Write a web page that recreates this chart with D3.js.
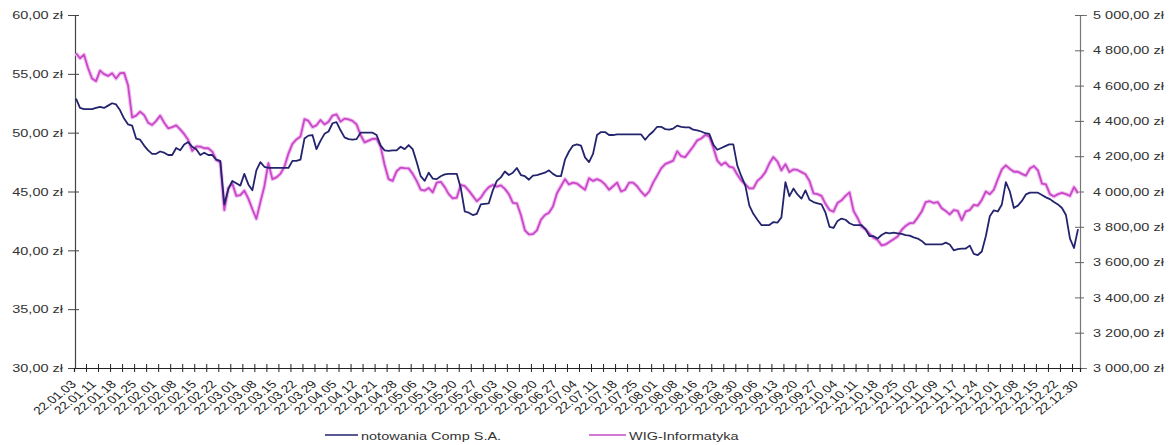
<!DOCTYPE html>
<html><head><meta charset="utf-8">
<script src="https://cdn.jsdelivr.net/npm/d3@7/dist/d3.min.js"></script>
<style>body{margin:0;background:#fff}svg{display:block}text{font-family:"Liberation Sans",Arial,sans-serif;fill:#333}</style>
</head><body><svg id="c" width="1175" height="445"></svg>
<script>
const seriesNames = ["notowania Comp S.A.", "WIG-Informatyka"];
const tickLabels = ["22.01.03","22.01.11","22.01.18","22.01.25","22.02.01","22.02.08","22.02.15","22.02.22","22.03.01","22.03.08","22.03.15","22.03.22","22.03.29","22.04.05","22.04.12","22.04.21","22.04.28","22.05.06","22.05.13","22.05.20","22.05.27","22.06.03","22.06.10","22.06.20","22.06.27","22.07.04","22.07.11","22.07.18","22.07.25","22.08.01","22.08.08","22.08.16","22.08.23","22.08.30","22.09.06","22.09.13","22.09.20","22.09.27","22.10.04","22.10.11","22.10.18","22.10.25","22.11.02","22.11.09","22.11.17","22.11.24","22.12.01","22.12.08","22.12.15","22.12.22","22.12.30"];
const compValues = [52.9,52.1,52.0,52.0,52.0,52.1,52.2,52.1,52.3,52.5,52.4,51.9,51.2,50.7,50.6,49.5,49.4,48.9,48.5,48.2,48.2,48.4,48.3,48.1,48.1,48.7,48.5,49.0,49.2,48.8,48.6,48.1,48.3,48.1,48.1,47.7,47.6,43.9,45.2,45.9,45.7,45.5,46.5,45.6,45.1,46.8,47.5,47.1,47.0,47.0,47.0,47.0,47.0,47.0,47.6,47.6,47.7,49.5,49.75,49.8,48.6,49.3,49.9,50.1,50.8,50.9,50.2,49.6,49.45,49.4,49.45,50.0,50.0,50.0,50.0,49.8,48.9,48.5,48.45,48.5,48.5,48.8,48.6,48.95,48.6,47.5,46.3,45.9,46.6,46.1,46.05,46.3,46.45,46.5,46.5,46.5,45.3,43.3,43.2,43.0,43.1,43.9,43.95,44.0,45.1,45.9,46.2,46.7,46.4,46.6,47.0,46.4,46.3,46.0,46.35,46.4,46.5,46.6,46.8,46.5,46.3,46.3,47.7,48.4,48.9,49.0,48.9,47.9,47.5,48.2,49.8,50.05,50.05,49.8,49.8,49.85,49.85,49.85,49.85,49.85,49.85,49.85,49.4,49.8,50.1,50.5,50.5,50.3,50.25,50.35,50.6,50.5,50.45,50.45,50.25,50.2,50.1,49.95,49.9,49.0,48.55,48.7,48.85,49.0,49.0,47.2,46.3,45.5,43.8,43.1,42.6,42.15,42.15,42.15,42.4,42.35,42.8,45.8,44.6,45.25,44.75,44.4,45.1,44.3,44.1,44.0,43.9,43.2,42.0,41.9,42.5,42.7,42.6,42.3,42.15,42.15,42.15,41.8,41.2,41.2,41.0,41.3,41.5,41.45,41.5,41.45,41.4,41.3,41.25,41.1,41.0,40.8,40.5,40.5,40.5,40.5,40.5,40.65,40.5,40.0,40.1,40.15,40.15,40.4,39.7,39.6,39.9,41.2,42.9,43.4,43.3,43.9,45.8,45.0,43.6,43.8,44.2,44.75,44.9,44.9,44.9,44.7,44.5,44.35,44.1,43.9,43.6,43.0,41.0,40.2,41.8];
const wigValues = [4783,4755,4775,4700,4640,4625,4685,4665,4655,4670,4640,4670,4672,4600,4420,4430,4452,4433,4390,4377,4400,4430,4390,4358,4365,4375,4352,4325,4292,4230,4255,4254,4245,4245,4226,4178,4165,3895,4020,4046,3975,3980,4005,3960,3900,3845,3940,4030,4160,4070,4080,4100,4140,4215,4270,4295,4311,4410,4400,4365,4375,4405,4380,4395,4430,4437,4396,4413,4409,4400,4380,4320,4278,4288,4298,4300,4254,4150,4070,4060,4115,4135,4132,4131,4100,4060,4010,4005,4020,3995,4050,4055,4025,3985,3961,3965,4037,4030,4005,3975,3945,3965,4000,4025,4037,4028,4035,4015,3985,3935,3933,3867,3780,3757,3759,3780,3840,3867,3880,3915,3990,4030,4070,4040,4050,4045,4027,4010,4075,4060,4070,4060,4040,4010,4030,4050,4000,4010,4050,4050,4030,3999,3975,4000,4050,4090,4131,4155,4165,4175,4228,4200,4195,4225,4255,4290,4300,4320,4312,4250,4175,4150,4165,4141,4135,4095,4062,4040,4018,4018,4060,4080,4110,4160,4195,4170,4120,4155,4110,4125,4122,4110,4098,4060,3990,3985,3975,3930,3895,3886,3935,3950,3975,3995,3890,3850,3801,3785,3760,3738,3725,3695,3700,3715,3730,3745,3782,3805,3820,3822,3852,3886,3940,3945,3935,3940,3905,3890,3870,3895,3890,3838,3888,3895,3924,3920,3952,4000,3985,4010,4070,4125,4148,4128,4112,4112,4100,4090,4130,4144,4120,4045,4040,3985,3972,3985,3992,3985,3975,4025,3990];
const leftTicks = [30,35,40,45,50,55,60];
const rightTicks = [3000,3200,3400,3600,3800,4000,4200,4400,4600,4800,5000];
const colors = ["#23236e", "#c848c8"];

const svg = d3.select("#c");
const SX = 1.26;
const n = compValues.length;
const x = d3.scalePoint().domain(d3.range(n)).range([76, 1078]);
const step = x.step();
const xb = d3.scaleLinear().domain([-0.5, n - 0.5]).range([x(0) - step / 2, x(n - 1) + step / 2]);
const yL = d3.scaleLinear().domain([30, 60]).range([368, 15]);
const yR = d3.scaleLinear().domain([3000, 5000]).range([368, 15]);
const fmtL = v => d3.format(".2f")(v).replace(".", ",") + " zł";
const fmtR = v => d3.format(",.2f")(v).replace(/,/g, " ").replace(".", ",") + " zł";

// left axis
const gL = svg.append("g").attr("transform", "translate(75,0)")
  .call(d3.axisLeft(yL).tickValues(leftTicks).tickFormat(fmtL).tickSizeOuter(0).tickSize(7));
gL.select(".domain").attr("stroke", "#444").attr("stroke-width", 1.2);
gL.selectAll(".tick line").attr("x1", 4).attr("x2", -7).attr("stroke", "#444");
gL.selectAll(".tick text").attr("x", 0).attr("transform", `translate(-12,0) scale(${SX},1)`)
  .style("font-size", "11.5px").style("fill", "#333");

// right axis
const gR = svg.append("g").attr("transform", "translate(1080,0)")
  .call(d3.axisRight(yR).tickValues(rightTicks).tickFormat(fmtR).tickSizeOuter(0).tickSize(7));
gR.select(".domain").attr("stroke", "#777").attr("stroke-width", 1.2);
gR.selectAll(".tick line").attr("x1", -5).attr("x2", 4).attr("stroke", "#666");
gR.selectAll(".tick text").attr("x", 0).attr("transform", `translate(13,0) scale(${SX},1)`)
  .style("font-size", "11.5px").style("fill", "#333");

// bottom axis
const gB = svg.append("g").attr("transform", "translate(0,368)")
  .call(d3.axisBottom(xb).tickValues(d3.range(2.5, n, 3)).tickFormat("").tickSizeOuter(0).tickSize(4));
gB.select(".domain").attr("stroke", "#222").attr("stroke-width", 1.2);
gB.selectAll(".tick line").attr("y1", -4).attr("y2", 4).attr("stroke", "#222");

svg.append("g").selectAll("text").data(tickLabels).join("text")
  .attr("text-anchor", "end")
  .attr("transform", (d, k) => `translate(${x(k * 5) + 1},385) scale(${SX},1) rotate(-45)`)
  .style("font-size", "11px").style("fill", "#222")
  .text(d => d);

// lines
const lineW = d3.line().x((d, i) => x(i)).y(d => yR(d));
const lineC = d3.line().x((d, i) => x(i)).y(d => yL(d));
svg.append("path").datum(wigValues).attr("d", lineW).attr("fill", "none")
  .attr("stroke", "#f2c2f2").attr("stroke-width", 4).attr("stroke-linejoin", "round");
svg.append("path").datum(wigValues).attr("d", lineW).attr("fill", "none")
  .attr("stroke", colors[1]).attr("stroke-width", 1.8).attr("stroke-linejoin", "round");
svg.append("path").datum(compValues).attr("d", lineC).attr("fill", "none")
  .attr("stroke", colors[0]).attr("stroke-width", 1.8).attr("stroke-linejoin", "round");

// legend
const legend = [{x1: 325, x2: 358, tx: 361}, {x1: 589, x2: 626, tx: 629}];
legend.forEach((l, k) => {
  svg.append("line").attr("x1", l.x1).attr("x2", l.x2).attr("y1", 435).attr("y2", 435)
    .attr("stroke", colors[k]).attr("stroke-width", 1.5);
  svg.append("text").attr("transform", `translate(${l.tx},439.5) scale(${SX},1)`)
    .style("font-size", "11.5px").style("fill", "#333").text(seriesNames[k]);
});
</script></body></html>
